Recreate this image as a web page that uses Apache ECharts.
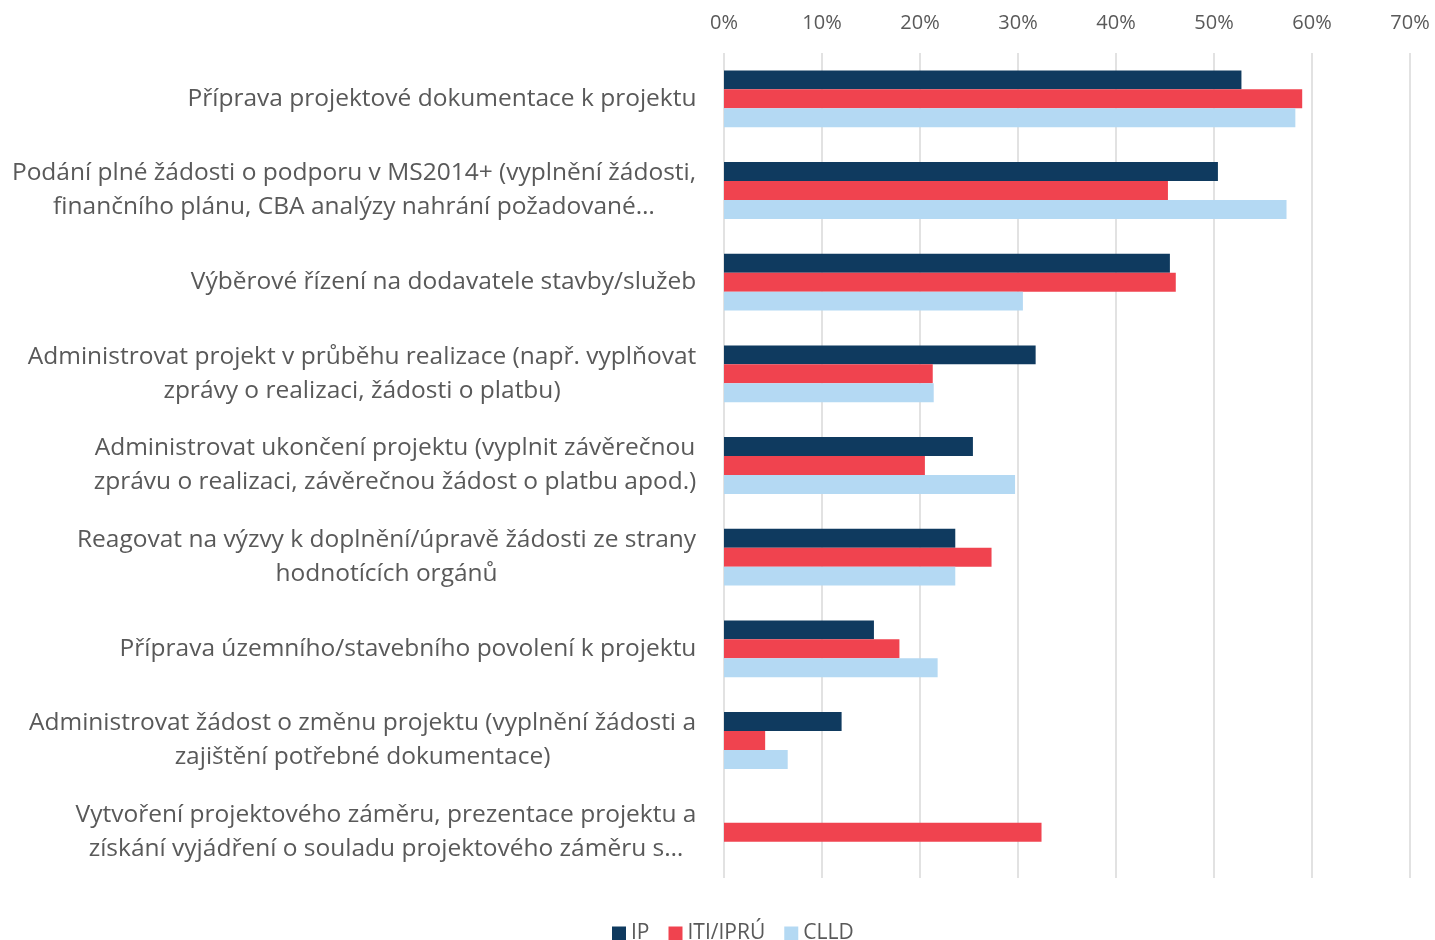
<!DOCTYPE html>
<html><head><meta charset="utf-8">
<script src="https://cdn.jsdelivr.net/npm/echarts@6/dist/echarts.min.js"></script>
<style>html,body{margin:0;padding:0;background:#fff}#c{width:1435px;height:940px}</style>
</head><body><div id="c"></div>
<script>
const categories = [
  'Příprava projektové dokumentace k projektu',
  'Podání plné žádosti o podporu v MS2014+ (vyplnění žádosti,\nfinančního plánu, CBA analýzy nahrání požadované…',
  'Výběrové řízení na dodavatele stavby/služeb',
  'Administrovat projekt v průběhu realizace (např. vyplňovat\nzprávy o realizaci, žádosti o platbu)',
  'Administrovat ukončení projektu (vyplnit závěrečnou\nzprávu o realizaci, závěrečnou žádost o platbu apod.)',
  'Reagovat na výzvy k doplnění/úpravě žádosti ze strany\nhodnotících orgánů',
  'Příprava územního/stavebního povolení k projektu',
  'Administrovat žádost o změnu projektu (vyplnění žádosti a\nzajištění potřebné dokumentace)',
  'Vytvoření projektového záměru, prezentace projektu a\nzískání vyjádření o souladu projektového záměru s…'
];
const seriesNames = ['IP', 'ITI/IPRÚ', 'CLLD'];
const ipValues   = [52.8, 50.4, 45.5, 31.8, 25.4, 23.6, 15.3, 12.0, 0];
const itiValues  = [59.0, 45.3, 46.1, 21.3, 20.5, 27.3, 17.9, 4.2, 32.4];
const clldValues = [58.3, 57.4, 30.5, 21.4, 29.7, 23.6, 21.8, 6.5, 0];
const colors = ['#0f3a5f', '#f0434f', '#b4d9f3'];
const font = 'Open Sans';
const labelSize = 24.5;

// measure line widths so multi-line labels can be centred within their block
const ctx = document.createElement('canvas').getContext('2d');
ctx.font = labelSize + 'px "' + font + '"';
const rich = {};
categories.forEach((c, i) => {
  const w = Math.max(...c.split('\n').map(l => ctx.measureText(l).width));
  rich['r' + i] = { width: Math.ceil(w) + 1, align: 'center', fontSize: labelSize, fontFamily: font, color: '#595959', lineHeight: 34 };
});

const chart = echarts.init(document.getElementById('c'));
const dataSets = [ipValues, itiValues, clldValues];
chart.setOption({
  animation: false,
  grid: { left: 724, right: 25, top: 53, bottom: 62, containLabel: false },
  legend: {
    left: 607, itemWidth: 14, itemHeight: 14, itemGap: 19,
    icon: 'rect', top: 918,
    textStyle: { fontSize: 21, color: '#595959', fontFamily: font },
    data: seriesNames
  },
  xAxis: {
    type: 'value', position: 'top', min: 0, max: 70, interval: 10,
    axisLine: { show: false }, axisTick: { show: false },
    axisLabel: { formatter: '{value}%', fontSize: 20, color: '#595959', fontFamily: font, margin: 20 },
    splitLine: { lineStyle: { color: '#d9d9d9', width: 1.5 } }
  },
  yAxis: {
    type: 'category', inverse: true, data: categories,
    axisLine: { show: false }, axisTick: { show: false },
    axisLabel: {
      margin: 27, align: 'right', rich: rich,
      formatter: (v, idx) => v.split('\n').map(l => '{r' + idx + '|' + l + '}').join('\n')
    }
  },
  series: dataSets.map((d, i) => ({
    name: seriesNames[i], type: 'bar', data: d,
    itemStyle: { color: colors[i] },
    barGap: '0%', barCategoryGap: '38%'
  }))
});
</script></body></html>
